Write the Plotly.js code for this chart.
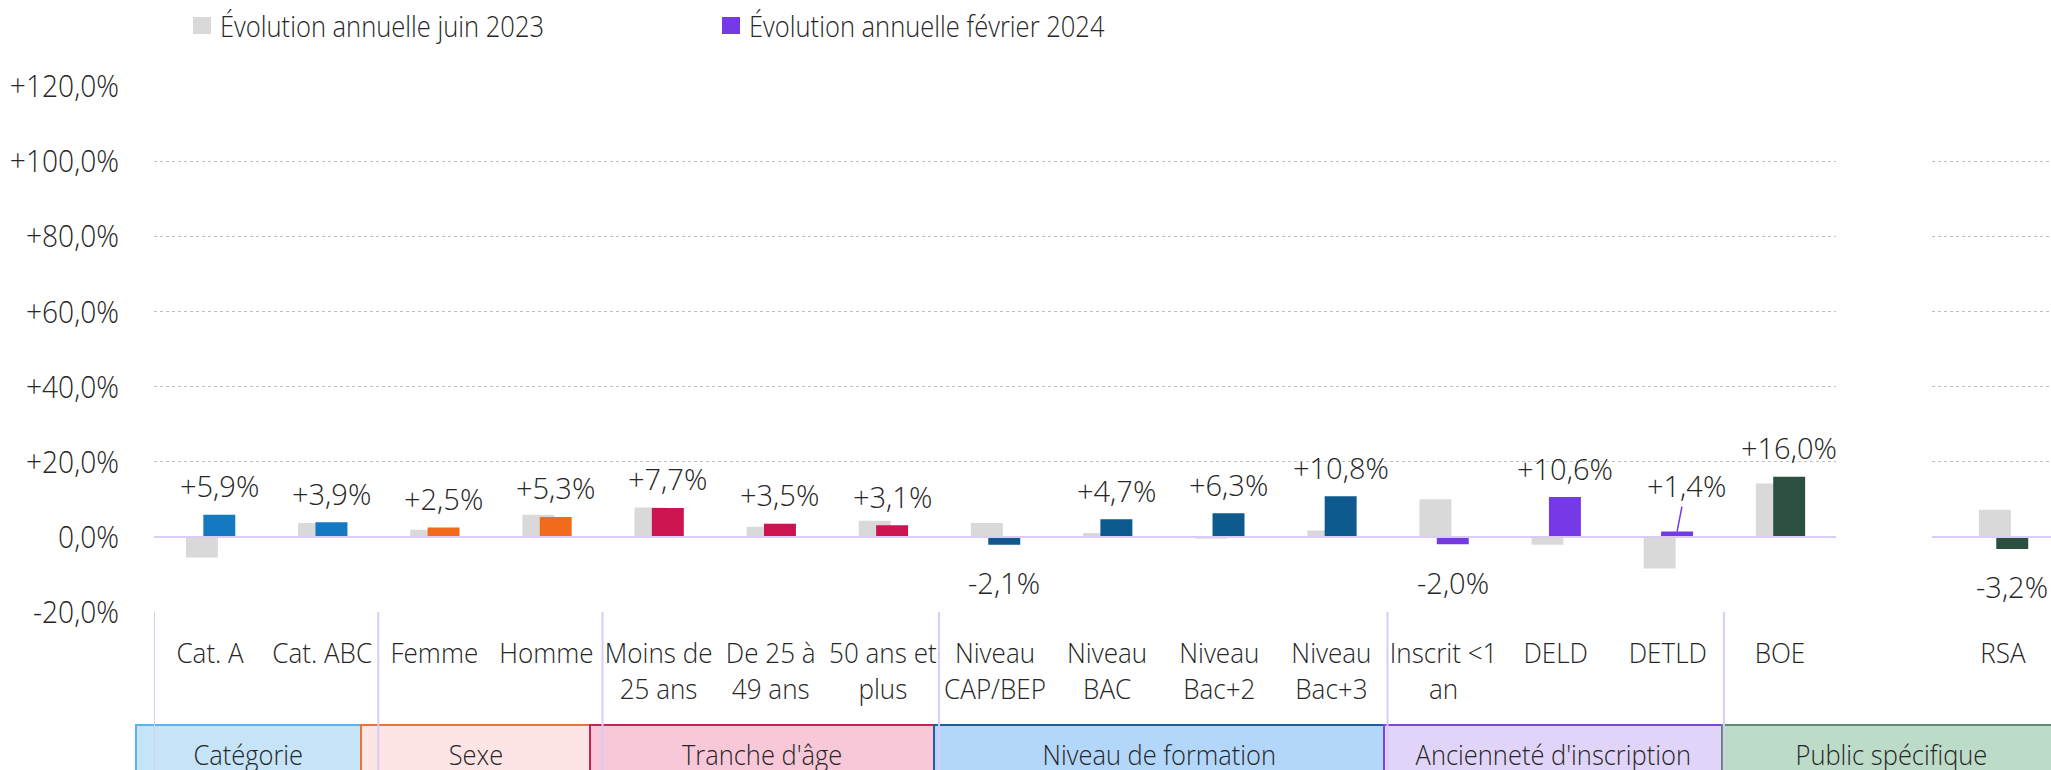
<!DOCTYPE html>
<html>
<head>
<meta charset="utf-8">
<script src="https://cdn.plot.ly/plotly-3.0.1.min.js"></script>
<style>html,body{margin:0;padding:0;background:#fff}#chart{width:2051px;height:770px}</style>
</head>
<body>
<div id="chart"></div>
<script>
// ---- data ----
const categories = ['Cat. A','Cat. ABC','Femme','Homme','Moins de<br>25 ans','De 25 à<br>49 ans','50 ans et<br>plus',
  'Niveau<br>CAP/BEP','Niveau<br>BAC','Niveau<br>Bac+2','Niveau<br>Bac+3','Inscrit &lt;1<br>an','DELD','DETLD','BOE'];
const juin2023 = [-5.5, 3.7, 1.9, 5.9, 7.8, 2.7, 4.3, 3.7, 1.0, -0.5, 1.7, 10.0, -2.1, -8.4, 14.2];
const fev2024  = [5.9, 3.9, 2.5, 5.3, 7.7, 3.5, 3.1, -2.1, 4.7, 6.3, 10.8, -2.0, 10.6, 1.4, 16.0];
const rsaCategory = ['RSA'];
const rsaJuin2023 = [7.2];
const rsaFev2024 = [-3.2];
const groupNames = ['Catégorie','Sexe',"Tranche d'âge",'Niveau de formation',"Ancienneté d'inscription",'Public spécifique'];
const groupSizes = [2, 2, 3, 4, 3, 1];           // categories of each group in the main panel
const groupBarColors = ['#1479c1','#f26a1b','#cc1550','#0e5a8e','#7639e6','#2c5040'];
const groupFill = ['#c5e4f8','#fde5e6','#f8c8d8','#b3d7fb','#e0d5f8','#bddbc9'];
const groupLine = ['#5ab4ef','#f0722b','#cc1f54','#1f5f96','#7a45e0','#5d8b6e'];
const seriesNames = ['Évolution annuelle juin 2023','Évolution annuelle février 2024'];
const yTickVals = [-20, 0, 20, 40, 60, 80, 100, 120];
const yTickText = ['-20,0%','0,0%','+20,0%','+40,0%','+60,0%','+80,0%','+100,0%','+120,0%'];
const leaderLabel = 'DETLD';

// ---- layout helpers ----
const W = 2051, H = 770, TOP = 86, BOT = 612;
const px = p => p / W;
const py = p => (BOT - p) / (BOT - TOP);
const GREY = '#d9d9d9', TXT = '#262626';
const FAM = 'Open Sans, sans-serif';
const nf = size => ({family:FAM, size:size, color:TXT, weight:300});
const fmt = v => (v > 0 ? '+' : '') + v.toFixed(1).replace('.', ',') + '%';

// colors of main bars from groups
const barColors = [];
groupSizes.forEach((n, g) => { for (let i = 0; i < n; i++) barColors.push(groupBarColors[g]); });

const GREY_OFF = -0.215, COL_OFF = -0.06, BW = 0.285;

const traces = [
  {type:'bar', x:categories, y:juin2023, xaxis:'x', yaxis:'y', name:seriesNames[0],
   marker:{color:GREY}, offset:GREY_OFF, width:BW, hoverinfo:'x+y'},
  {type:'bar', x:categories, y:fev2024, xaxis:'x', yaxis:'y', name:seriesNames[1],
   marker:{color:barColors}, offset:COL_OFF, width:BW, hoverinfo:'x+y'},
  {type:'bar', x:rsaCategory, y:rsaJuin2023, xaxis:'x2', yaxis:'y', name:seriesNames[0],
   marker:{color:GREY}, offset:GREY_OFF, width:BW, hoverinfo:'x+y'},
  {type:'bar', x:rsaCategory, y:rsaFev2024, xaxis:'x2', yaxis:'y', name:seriesNames[1],
   marker:{color:groupBarColors[5]}, offset:COL_OFF, width:BW, hoverinfo:'x+y'}
];

// data labels
const CAT_PX = (1836 - 154) / 15;
const labelShiftX = (COL_OFF + BW / 2) * CAT_PX;
const annotations = [];
const squeezeAnn = [];   // [annotation index, horizontal factor, keep-left]
const labelFont = {family:FAM, size:29, color:TXT, weight:300};
function addLabels(xs, ys, xref) {
  xs.forEach((c, i) => {
    const v = ys[i];
    if (c === leaderLabel) {
      annotations.push({xref:xref, yref:'y', x:c, y:v, text:fmt(v), showarrow:true, arrowhead:0,
        arrowwidth:1.5, arrowcolor:groupBarColors[4], ax:9, ay:-46, standoff:0, xshift:labelShiftX,
        font:labelFont});
    } else {
      annotations.push({xref:xref, yref:'y', x:c, y:v, text:fmt(v), showarrow:false,
        xanchor:'center', yanchor:'middle', xshift:labelShiftX, yshift: v >= 0 ? 29 : -38,
        font:labelFont});
    }
  });
}
addLabels(categories, fev2024, 'x');
addLabels(rsaCategory, rsaFev2024, 'x2');

// group boxes (below the axis)
const boxEdges = [136, 361, 590, 934, 1384, 1722, 2060];
const shapes = [];
groupNames.forEach((g, i) => {
  shapes.push({type:'rect', xref:'paper', yref:'paper', x0:px(boxEdges[i]), x1:px(boxEdges[i+1]),
    y0:py(725), y1:py(790), fillcolor:groupFill[i], line:{color:groupLine[i], width:2}, layer:'below'});
  squeezeAnn.push([annotations.length, 0.91, false]);
  annotations.push({xref:'paper', yref:'paper', x:px((boxEdges[i] + boxEdges[i+1]) / 2), y:py(754),
    text:g, showarrow:false, xanchor:'center', yanchor:'middle', font:nf(28)});
});
// group separators
let b = -0.5;
const seps = [b];
groupSizes.forEach(n => { b += n; seps.push(b); });
seps.slice(0, -1).forEach(s => {
  shapes.push({type:'line', xref:'x', yref:'paper', x0:s, x1:s, y0:0, y1:py(780),
    line:{color:'#d9ccf7', width:2}, layer:'above'});
});
// legend
const legendItems = [{color:GREY, x:193}, {color:groupBarColors[4], x:722}];
legendItems.forEach((it, i) => {
  shapes.push({type:'rect', xref:'paper', yref:'paper', x0:px(it.x), x1:px(it.x + 18), y0:py(34), y1:py(17),
    fillcolor:it.color, line:{width:0}});
  squeezeAnn.push([annotations.length, 0.88, true]);
  annotations.push({xref:'paper', yref:'paper', x:px(it.x + 25), y:py(26), text:seriesNames[i], showarrow:false,
    xanchor:'left', yanchor:'middle', font:nf(29)});
});

const yax = {range:[-20, 120], tickvals:yTickVals, ticktext:yTickText, showgrid:true, gridcolor:'#bfbfbf',
  griddash:'dot', gridwidth:1, zeroline:true, zerolinecolor:'#d9ccf7', zerolinewidth:2.5,
  zerolinelayer:'above traces', ticks:'', ticklabelstandoff:34,
  tickfont:nf(32), fixedrange:true};

const layout = {
  width:W, height:H, margin:{l:0, r:0, t:TOP, b:H - BOT}, paper_bgcolor:'#fff', plot_bgcolor:'#fff',
  showlegend:false, barmode:'overlay',
  xaxis:{domain:[px(154), px(1836)], range:[-0.5, 14.5], type:'category', showgrid:false, zeroline:false,
    ticks:'', tickangle:0, ticklabelstandoff:22, tickfont:nf(28), fixedrange:true},
  xaxis2:{domain:[px(1932), 1], range:[(1932 - 2003) / CAT_PX, (2051 - 2003) / CAT_PX], type:'category',
    anchor:'y', showgrid:false, zeroline:false, ticks:'', tickangle:0, ticklabelstandoff:22,
    tickfont:nf(28), fixedrange:true},
  yaxis:yax,
  shapes:shapes, annotations:annotations
};

// narrow the light sans text horizontally, as the reference uses a condensed face
function squeeze(nodes, f, keepLeft) {
  nodes.forEach(t => {
    const lines = t.querySelectorAll('tspan.line');
    const targets = lines.length ? Array.from(lines) : [t];
    const left0 = t.getBBox().x;
    targets.forEach(el => {
      const L = el.getComputedTextLength();
      if (L > 0) {
        el.setAttribute('textLength', (L * f).toFixed(2));
        el.setAttribute('lengthAdjust', 'spacingAndGlyphs');
      }
    });
    if (keepLeft) {
      const dx = left0 - t.getBBox().x;
      const x0 = parseFloat(t.getAttribute('x') || '0');
      t.setAttribute('x', (x0 + dx).toFixed(2));
    }
  });
}

Plotly.newPlot('chart', traces, layout, {displayModeBar:false, staticPlot:true}).then(gd => {
  squeeze(gd.querySelectorAll('.yaxislayer-above .ytick text'), 0.88, false);
  squeeze(gd.querySelectorAll('.xaxislayer-above .xtick text, .xaxislayer-above .x2tick text'), 0.93, false);
  squeezeAnn.forEach(([idx, f, keepLeft]) => {
    squeeze(gd.querySelectorAll('.annotation[data-index="' + idx + '"] text.annotation-text'), f, keepLeft);
  });
});
</script>
</body>
</html>
